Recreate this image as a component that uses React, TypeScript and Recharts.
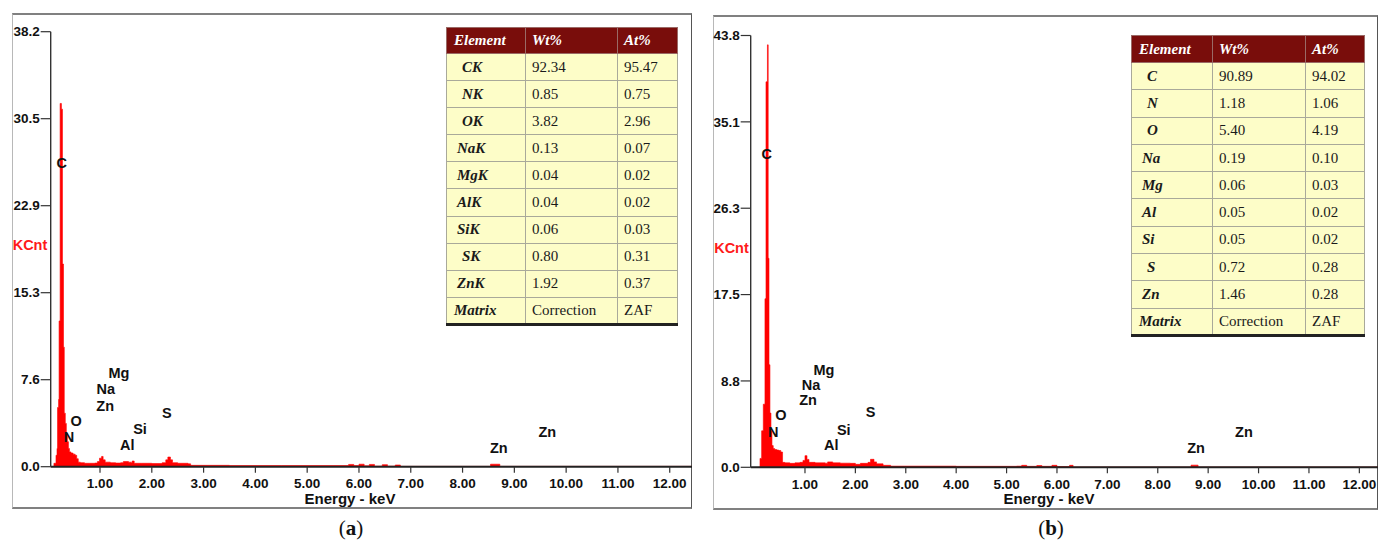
import React from 'react';
import { ComposedChart, Area, Scatter, XAxis, YAxis } from 'recharts';

// ---------- data ----------
const energyTicks = [1, 2, 3, 4, 5, 6, 7, 8, 9, 10, 11, 12];
const energyTickLabels = ['1.00', '2.00', '3.00', '4.00', '5.00', '6.00', '7.00', '8.00', '9.00', '10.00', '11.00', '12.00'];

const countTicksA = [0, 7.64, 15.28, 22.92, 30.56, 38.2];
const countTickLabelsA = ['0.0', '7.6', '15.3', '22.9', '30.5', '38.2'];
const countTicksB = [0, 8.76, 17.52, 26.28, 35.04, 43.8];
const countTickLabelsB = ['0.0', '8.8', '17.5', '26.3', '35.1', '43.8'];

// [energy keV, KCnt]
const spectrumA: [number, number][] = [
  [0.09, 0], [0.11, 0.3], [0.15, 1.0], [0.17, 1.6], [0.18, 5.2], [0.2, 5.9], [0.21, 12.8],
  [0.23, 31.9], [0.255, 31.4], [0.275, 17.8], [0.295, 10.5], [0.31, 4.7], [0.33, 3.8],
  [0.35, 2.9], [0.37, 2.2], [0.39, 1.6], [0.41, 1.3], [0.44, 1.2], [0.48, 1.1], [0.52, 1.0],
  [0.55, 0.7], [0.58, 0.4], [0.62, 0.35], [0.7, 0.3], [0.8, 0.3], [0.9, 0.32], [0.95, 0.45],
  [0.99, 0.75], [1.03, 0.9], [1.06, 0.6], [1.1, 0.4], [1.2, 0.35], [1.3, 0.32], [1.4, 0.35],
  [1.45, 0.45], [1.55, 0.4], [1.6, 0.35], [1.62, 0.5], [1.66, 0.3], [1.8, 0.3], [2.0, 0.28],
  [2.2, 0.35], [2.27, 0.6], [2.31, 0.85], [2.36, 0.6], [2.4, 0.35], [2.5, 0.3], [2.7, 0.25],
  [2.75, 0.12], [3.5, 0.1], [4.5, 0.1], [5.5, 0.1], [5.8, 0.2], [5.9, 0.1], [6.0, 0.22],
  [6.1, 0.08], [6.2, 0.2], [6.3, 0.05], [6.45, 0.18], [6.55, 0.05], [6.7, 0.15], [6.8, 0.03],
  [8.54, 0.22], [8.72, 0.03], [12.43, 0.03],
];

const spectrumB: [number, number][] = [
  [0.08, 0], [0.107, 0.9], [0.14, 3.7], [0.173, 6.4], [0.206, 17.1], [0.226, 39.1],
  [0.255, 42.85], [0.27, 21.2], [0.286, 10.4], [0.305, 5.5], [0.325, 3.7], [0.345, 2.2],
  [0.37, 1.9], [0.4, 1.8], [0.44, 1.75], [0.48, 1.7], [0.52, 1.55], [0.555, 0.5], [0.6, 0.45],
  [0.7, 0.4], [0.8, 0.45], [0.9, 0.5], [0.96, 0.7], [1.0, 1.18], [1.04, 0.8], [1.08, 0.5],
  [1.2, 0.45], [1.4, 0.42], [1.45, 0.55], [1.55, 0.45], [1.7, 0.42], [1.9, 0.4], [2.0, 0.3],
  [2.1, 0.4], [2.25, 0.5], [2.3, 0.81], [2.37, 0.55], [2.42, 0.35], [2.55, 0.2], [2.7, 0.12],
  [4.0, 0.1], [5.2, 0.12], [5.3, 0.2], [5.4, 0.1], [5.6, 0.18], [5.7, 0.1], [5.9, 0.2],
  [6.0, 0.08], [6.25, 0.2], [6.32, 0.03], [8.66, 0.22], [8.8, 0.03], [12.37, 0.03],
];

// [energy keV, KCnt position, element]
const peakLabelsA: [number, number, string][] = [
  [0.26, 26.65, 'C'], [0.537, 4.04, 'O'], [0.4, 2.63, 'N'], [1.367, 8.2, 'Mg'],
  [1.11, 6.8, 'Na'], [1.1, 5.36, 'Zn'], [1.772, 3.31, 'Si'], [1.527, 1.9, 'Al'],
  [2.288, 4.74, 'S'], [8.7, 1.67, 'Zn'], [9.635, 3.07, 'Zn'],
];
const peakLabelsB: [number, number, string][] = [
  [0.24, 31.75, 'C'], [0.52, 5.31, 'O'], [0.37, 3.63, 'N'], [1.375, 9.9, 'Mg'],
  [1.12, 8.39, 'Na'], [1.06, 6.8, 'Zn'], [1.77, 3.83, 'Si'], [1.52, 2.27, 'Al'],
  [2.3, 5.56, 'S'], [8.76, 1.96, 'Zn'], [9.71, 3.58, 'Zn'],
];

const tableHeader = ['Element', 'Wt%', 'At%'];
const tableA: [string, string, string][] = [
  ['CK', '92.34', '95.47'], ['NK', '0.85', '0.75'], ['OK', '3.82', '2.96'],
  ['NaK', '0.13', '0.07'], ['MgK', '0.04', '0.02'], ['AlK', '0.04', '0.02'],
  ['SiK', '0.06', '0.03'], ['SK', '0.80', '0.31'], ['ZnK', '1.92', '0.37'],
  ['Matrix', 'Correction', 'ZAF'],
];
const tableB: [string, string, string][] = [
  ['C', '90.89', '94.02'], ['N', '1.18', '1.06'], ['O', '5.40', '4.19'],
  ['Na', '0.19', '0.10'], ['Mg', '0.06', '0.03'], ['Al', '0.05', '0.02'],
  ['Si', '0.05', '0.02'], ['S', '0.72', '0.28'], ['Zn', '1.46', '0.28'],
  ['Matrix', 'Correction', 'ZAF'],
];

// ---------- styles ----------
const SANS = '"Liberation Sans", Arial, sans-serif';
const SERIF = '"Liberation Serif", "Times New Roman", serif';
const RED = '#ff0000';

function LabelShape(props: any) {
  const { cx, cy, payload } = props;
  return (
    <text x={cx} y={cy} textAnchor="middle" dominantBaseline="central"
      fontFamily={SANS} fontWeight={700} fontSize={14.5} fill="#111">{payload.t}</text>
  );
}

function Spectrum(props: any) {
  const { left, width, margin, yMax, yTicks, yTickLabels, xDomain, spectrum, labels } = props;
  const data = spectrum.map(([e, v]: [number, number]) => ({ e, v }));
  const lab = labels.map(([e, v, t]: [number, number, string]) => ({ e, v, t }));
  return (
    <div style={{ position: 'absolute', left, top: 0 }}>
      <ComposedChart width={width} height={545} data={data} margin={margin}>
        <XAxis type="number" dataKey="e" domain={xDomain} allowDataOverflow ticks={energyTicks}
          interval={0} height={30}
          tickFormatter={(v: number) => energyTickLabels[energyTicks.indexOf(v)]}
          tick={{ fontFamily: SANS, fontWeight: 700, fontSize: 13.5, fill: '#111' }}
          tickSize={6} tickMargin={6}
          axisLine={{ stroke: '#222', strokeWidth: 2 }} tickLine={{ stroke: '#333', strokeWidth: 1.2 }} />
        <YAxis type="number" dataKey="v" domain={[0, yMax]} allowDataOverflow ticks={yTicks}
          interval={0} width={50.7}
          tickFormatter={(v: number) => yTickLabels[yTicks.indexOf(v)]}
          tick={{ fontFamily: SANS, fontWeight: 700, fontSize: 13.5, fill: '#111' }}
          tickSize={10} tickMargin={1}
          axisLine={{ stroke: '#333', strokeWidth: 1.4 }} tickLine={{ stroke: '#333', strokeWidth: 1.2 }} />
        <Area type="stepAfter" dataKey="v" stroke={RED} strokeWidth={0.6} fill={RED} fillOpacity={1}
          baseValue={0} dot={false} activeDot={false} isAnimationActive={false} />
        <Scatter data={lab} dataKey="v" shape={<LabelShape />} isAnimationActive={false} />
      </ComposedChart>
    </div>
  );
}

function ElementTable(props: any) {
  const { left, top, widths, headH, rowH, rows } = props;
  const cellBorder = '1px solid #a9a99a';
  const indent = (name: string) => {
    if (name === 'Matrix') return 7;
    const sym = name.replace(/K$/, '');
    return sym.length === 1 ? 15 : 10;
  };
  return (
    <table style={{
      position: 'absolute', left, top, borderCollapse: 'collapse', tableLayout: 'fixed',
      width: widths[0] + widths[1] + widths[2], fontFamily: SERIF, fontSize: 15,
      borderBottom: '3px solid #222', borderTop: '1px solid #999', borderLeft: '1px solid #aaa',
      borderRight: '1px solid #999',
    }}>
      <colgroup>
        {widths.map((w: number, i: number) => <col key={i} style={{ width: w }} />)}
      </colgroup>
      <tbody>
        <tr style={{ height: headH }}>
          {tableHeader.map((h, i) => (
            <td key={i} style={{
              background: '#790d0b', color: '#fff', fontWeight: 700, fontStyle: 'italic',
              padding: 0, paddingLeft: i === 0 ? 7 : 6, border: '1px solid #9a6a66', whiteSpace: 'nowrap',
            }}>{h}</td>
          ))}
        </tr>
        {rows.map((r: string[], ri: number) => (
          <tr key={ri} style={{ height: rowH }}>
            {r.map((c, ci) => (
              <td key={ci} style={{
                background: '#fdfdc8', color: '#1a1a1a', padding: 0,
                paddingLeft: ci === 0 ? indent(c) : 6, border: cellBorder,
                fontWeight: ci === 0 ? 700 : 400, fontStyle: ci === 0 ? 'italic' : 'normal',
                whiteSpace: 'nowrap',
              }}>{c}</td>
            ))}
          </tr>
        ))}
      </tbody>
    </table>
  );
}

function Frame({ left, top, right, bottom }: any) {
  return (
    <div style={{
      position: 'absolute', left, top, width: right - left, height: bottom - top, boxSizing: 'border-box',
      borderTop: '2px solid #808080', borderLeft: '1px solid #b8b8b8',
      borderBottom: '2px solid #808080', borderRight: '1.5px solid #555',
    }} />
  );
}

function TextAt({ x, y, children, style }: any) {
  return (
    <div style={{ position: 'absolute', left: x, top: y, transform: 'translate(-50%, -50%)', whiteSpace: 'nowrap', lineHeight: 1, ...style }}>
      {children}
    </div>
  );
}

export default function App() {
  return (
    <div style={{ position: 'absolute', left: 0, top: 0, width: 1382, height: 545, background: '#fff', overflow: 'hidden' }}>
      <Frame left={12} top={13} right={692} bottom={509} />
      <Frame left={713} top={15} right={1378} bottom={510} />

      <Spectrum left={0} width={700} margin={{ top: 31.7, right: 8, bottom: 48.3, left: 0 }}
        yMax={38.2} yTicks={countTicksA} yTickLabels={countTickLabelsA} xDomain={[0.048, 12.43]}
        spectrum={spectrumA} labels={peakLabelsA} />
      <Spectrum left={700} width={682} margin={{ top: 35.5, right: 4, bottom: 47.7, left: 0 }}
        yMax={43.8} yTicks={countTicksB} yTickLabels={countTickLabelsB} xDomain={[-0.077, 12.37]}
        spectrum={spectrumB} labels={peakLabelsB} />

      <TextAt x={30} y={245} style={{ fontFamily: SANS, fontWeight: 700, fontSize: 14.5, color: '#ff1a1a' }}>KCnt</TextAt>
      <TextAt x={731.5} y={248} style={{ fontFamily: SANS, fontWeight: 700, fontSize: 14.5, color: '#ff1a1a' }}>KCnt</TextAt>

      <TextAt x={350} y={498} style={{ fontFamily: SANS, fontWeight: 700, fontSize: 15, color: '#111' }}>Energy - keV</TextAt>
      <TextAt x={1049} y={498} style={{ fontFamily: SANS, fontWeight: 700, fontSize: 15, color: '#111' }}>Energy - keV</TextAt>

      <TextAt x={351} y={528} style={{ fontFamily: SERIF, fontSize: 21, color: '#111' }}>(<b>a</b>)</TextAt>
      <TextAt x={1051} y={528} style={{ fontFamily: SERIF, fontSize: 21, color: '#111' }}>(<b>b</b>)</TextAt>

      <ElementTable left={446} top={27} widths={[79, 92, 60]} headH={26} rowH={27.1} rows={tableA} />
      <ElementTable left={1131} top={35} widths={[81, 93, 59]} headH={27} rowH={27.3} rows={tableB} />
    </div>
  );
}
